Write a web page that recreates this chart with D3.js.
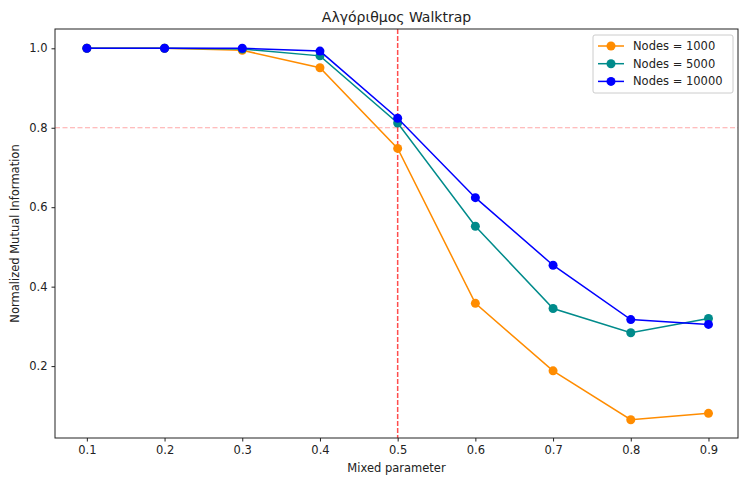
<!DOCTYPE html>
<html lang="en">

<head>
    <meta charset="UTF-8">
    <script src="https://d3js.org/d3.v7.min.js"></script>
    <style>
        body {
            margin: 0;
            background: white;
            font-family: "DejaVu Sans", sans-serif;
        }
    </style>
</head>

<body>
    <svg id="canvas" width="739" height="480"></svg>

    <script>
        // data
        const mixed = [0.1, 0.2, 0.3, 0.4, 0.5, 0.6, 0.7, 0.8, 0.9];
        const nodes1000 = [1.0, 1.0, 0.995, 0.951, 0.748, 0.358, 0.188, 0.065, 0.081];
        const nodes5000 = [1.0, 1.0, 0.998, 0.981, 0.812, 0.552, 0.345, 0.284, 0.32];
        const nodes10000 = [1.0, 1.0, 1.0, 0.993, 0.824, 0.624, 0.454, 0.317, 0.305];
        const seriesNames = ["Nodes = 1000", "Nodes = 5000", "Nodes = 10000"];
        const seriesColors = ["#ff8c00", "#008b8b", "#0000ff"];
        const xTicks = [0.1, 0.2, 0.3, 0.4, 0.5, 0.6, 0.7, 0.8, 0.9];
        const yTicks = [0.2, 0.4, 0.6, 0.8, 1.0];

        const series = [nodes1000, nodes5000, nodes10000].map((vals, i) => ({
            name: seriesNames[i],
            color: seriesColors[i],
            values: mixed.map((m, j) => ({ x: m, y: vals[j] }))
        }));

        let svg = d3.select("#canvas");
        let margins = { top: 29, right: 1, bottom: 42, left: 55 };
        let chartWidth = 739 - margins.left - margins.right;
        let chartHeight = 480 - margins.top - margins.bottom;

        let chartArea = svg.append("g")
            .attr("transform", `translate(${margins.left},${margins.top})`);

        const xScale = d3.scaleLinear().domain([0.059, 0.938]).range([0, chartWidth]);
        const yScale = d3.scaleLinear().domain([0.019, 1.0486]).range([chartHeight, 0]);

        // reference lines
        chartArea.append("line")
            .attr("x1", 0).attr("x2", chartWidth)
            .attr("y1", yScale(0.8)).attr("y2", yScale(0.8))
            .attr("stroke", "#ff0000").attr("stroke-opacity", 0.35)
            .attr("stroke-width", 1).attr("stroke-dasharray", "5,2.5");

        chartArea.append("line")
            .attr("x1", xScale(0.5)).attr("x2", xScale(0.5))
            .attr("y1", 0).attr("y2", chartHeight)
            .attr("stroke", "#ff2020").attr("stroke-opacity", 0.8)
            .attr("stroke-width", 1.5).attr("stroke-dasharray", "5,2");

        const lineGen = d3.line()
            .x(d => xScale(d.x))
            .y(d => yScale(d.y));

        const gTags = chartArea.selectAll(".series")
            .data(series)
            .join("g")
            .attr("class", "series");

        gTags.append("path")
            .attr("fill", "none")
            .attr("stroke-width", 1.5)
            .attr("stroke", d => d.color)
            .attr("d", d => lineGen(d.values));

        gTags.selectAll("circle")
            .data(d => d.values.map(v => ({ ...v, color: d.color })))
            .join("circle")
            .attr("cx", d => xScale(d.x))
            .attr("cy", d => yScale(d.y))
            .attr("r", 4.5)
            .attr("fill", d => d.color);

        // axes
        let xAxis = chartArea.append("g")
            .attr("transform", `translate(0,${chartHeight})`)
            .call(d3.axisBottom(xScale).tickValues(xTicks).tickFormat(d3.format(".1f")).tickSize(3.5).tickPadding(4));
        let yAxis = chartArea.append("g")
            .call(d3.axisLeft(yScale).tickValues(yTicks).tickFormat(d3.format(".1f")).tickSize(3.5).tickPadding(4));
        [xAxis, yAxis].forEach(a => {
            a.select(".domain").remove();
            a.attr("font-size", null).attr("font-family", null);
            a.selectAll(".tick line").attr("stroke", "#222");
            a.selectAll("text")
                .style("font-family", "DejaVu Sans")
                .style("font-size", "11.5px")
                .attr("fill", "#222");
        });

        // frame
        chartArea.append("rect")
            .attr("width", chartWidth).attr("height", chartHeight)
            .attr("fill", "none").attr("stroke", "#222").attr("stroke-width", 1);

        // titles
        svg.append("text")
            .attr("x", margins.left + chartWidth / 2).attr("y", 22)
            .attr("text-anchor", "middle")
            .style("font-size", "14px").attr("fill", "#222")
            .text("Αλγόριθμος Walktrap");
        svg.append("text")
            .attr("x", margins.left + chartWidth / 2).attr("y", 472)
            .attr("text-anchor", "middle")
            .style("font-size", "11.5px").attr("fill", "#222")
            .text("Mixed parameter");
        svg.append("text")
            .attr("transform", `translate(19,${margins.top + chartHeight / 2}) rotate(-90)`)
            .attr("text-anchor", "middle")
            .style("font-size", "11.5px").attr("fill", "#222")
            .text("Normalized Mutual Information");

        // legend
        let legend = svg.append("g").attr("transform", "translate(593,35)");
        legend.append("rect")
            .attr("width", 140).attr("height", 58).attr("rx", 2)
            .attr("fill", "white").attr("fill-opacity", 0.8)
            .attr("stroke", "#ccc");
        const items = legend.selectAll(".item")
            .data(series)
            .join("g")
            .attr("transform", (d, i) => `translate(0,${11 + i * 17.7})`);
        items.append("line")
            .attr("x1", 5).attr("x2", 31)
            .attr("stroke", d => d.color).attr("stroke-width", 1.5);
        items.append("circle")
            .attr("cx", 18).attr("r", 4.5).attr("fill", d => d.color);
        items.append("text")
            .attr("x", 40).attr("dy", "0.35em")
            .style("font-size", "11.5px").attr("fill", "#222")
            .text(d => d.name);
    </script>
</body>

</html>
